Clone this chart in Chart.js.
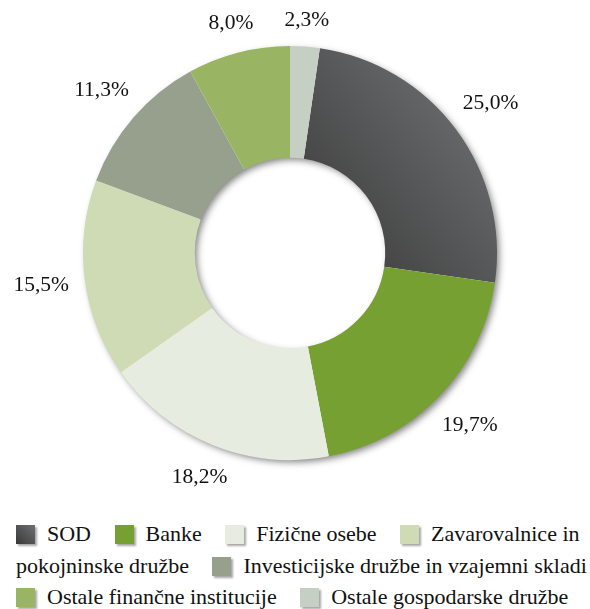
<!DOCTYPE html>
<html>
<head>
<meta charset="utf-8">
<script src="https://cdn.jsdelivr.net/npm/chart.js@4"></script>
<style>
    body { margin: 0; background: #fff; }
    #wrap { position: relative; width: 590px; height: 505px; }
    #legend {
        position: absolute; left: 16px; top: 518px; width: 574px;
        font-family: 'Liberation Serif';
        font-size: 22px; line-height: 31.5px; color: #111;
    }
    #legend .item { white-space: nowrap; }
    #legend .box {
        display: inline-block; width: 19px; height: 19px;
        vertical-align: -3px; margin-right: 12px;
        box-shadow: 2px 2px 2px rgba(0, 0, 0, 0.35);
    }
    #legend .sp { word-spacing: 18px; }
</style>
</head>
<body>
<div id="wrap"><canvas id="pieChart"></canvas></div>
<div id="legend"></div>
<script>
const categories = [
    'SOD',
    'Banke',
    'Fizične osebe',
    'Zavarovalnice in pokojninske družbe',
    'Investicijske družbe in vzajemni skladi',
    'Ostale finančne institucije',
    'Ostale gospodarske družbe'
];
const shares = [25.0, 19.7, 18.2, 15.5, 11.3, 8.0, 2.3];
const colors = ['#4a4a4b', '#77a032', '#e6ede0', '#cfdbb5', '#979f8d', '#99b563', '#c5cfc3'];

// SOD gets a dark-to-grey gradient like the original
function sliceColor(c) {
    const i = c.dataIndex;
    if (i !== 0) return colors[i];
    const area = c.chart.chartArea;
    if (!area) return colors[0];
    const cx = (area.left + area.right) / 2;
    const cy = (area.top + area.bottom) / 2;
    const g = c.chart.ctx.createLinearGradient(cx + 10, cy + 10, area.right, area.top + 60);
    g.addColorStop(0, '#393939');
    g.addColorStop(1, '#6e6f71');
    return g;
}

const ringShadow = {
    id: 'ringShadow',
    beforeDatasetsDraw(chart) {
        const arc = chart.getDatasetMeta(0).data[0];
        if (!arc) return;
        const ctx = chart.ctx;
        ctx.save();
        ctx.shadowColor = 'rgba(0, 0, 0, 0.5)';
        ctx.shadowBlur = 7;
        ctx.shadowOffsetX = 3;
        ctx.shadowOffsetY = 3;
        ctx.fillStyle = '#fff';
        ctx.beginPath();
        ctx.arc(arc.x, arc.y, arc.outerRadius - 1, 0, Math.PI * 2);
        ctx.arc(arc.x, arc.y, arc.innerRadius + 1, 0, Math.PI * 2, true);
        ctx.fill();
        ctx.restore();
    }
};

// percentage labels just outside the ring
const pctLabels = {
    id: 'pctLabels',
    afterDatasetsDraw(chart) {
        const ctx = chart.ctx;
        ctx.save();
        ctx.font = '21.5px "Liberation Serif"';
        ctx.fillStyle = '#111';
        ctx.textAlign = 'center';
        ctx.textBaseline = 'middle';
        chart.getDatasetMeta(0).data.forEach((arc, i) => {
            const txt = shares[i].toFixed(1).replace('.', ',') + '%';
            const mid = (arc.startAngle + arc.endAngle) / 2;
            const dx = Math.cos(mid), dy = Math.sin(mid);
            const half = Math.abs(dx) * ctx.measureText(txt).width / 2 + Math.abs(dy) * 10;
            const r = arc.outerRadius + 15 + half;
            ctx.fillText(txt, arc.x + dx * r, arc.y + dy * r);
        });
        ctx.restore();
    }
};

const ctx = document.getElementById('pieChart').getContext('2d');
const chart = new Chart(ctx, {
    type: 'doughnut',
    data: {
        labels: categories,
        datasets: [{
            data: shares,
            backgroundColor: sliceColor,
            borderWidth: 0
        }]
    },
    options: {
        responsive: true,
        maintainAspectRatio: false,
        animation: false,
        cutout: '46%',
        rotation: shares[shares.length - 1] * 3.6,
        layout: { padding: { left: 83, right: 93, top: 46, bottom: 45 } },
        plugins: {
            legend: { display: false },
            tooltip: { enabled: false }
        }
    },
    plugins: [ringShadow, pctLabels]
});

// legend as flowing text so long labels wrap like the original;
// the wide space between items hangs at line ends instead of wrapping
const legendEl = document.getElementById('legend');
legendEl.innerHTML = categories.map((name, i) => {
    const words = name.split(' ');
    const first = '<span class="item"><span class="box" style="background:' +
        (i === 0 ? 'linear-gradient(45deg,#393939,#6e6f71)' : colors[i]) + '"></span>' + words[0] + '</span>';
    return first + (words.length > 1 ? ' ' + words.slice(1).join(' ') : '');
}).join('<span class="sp"> </span>');
</script>
</body>
</html>
